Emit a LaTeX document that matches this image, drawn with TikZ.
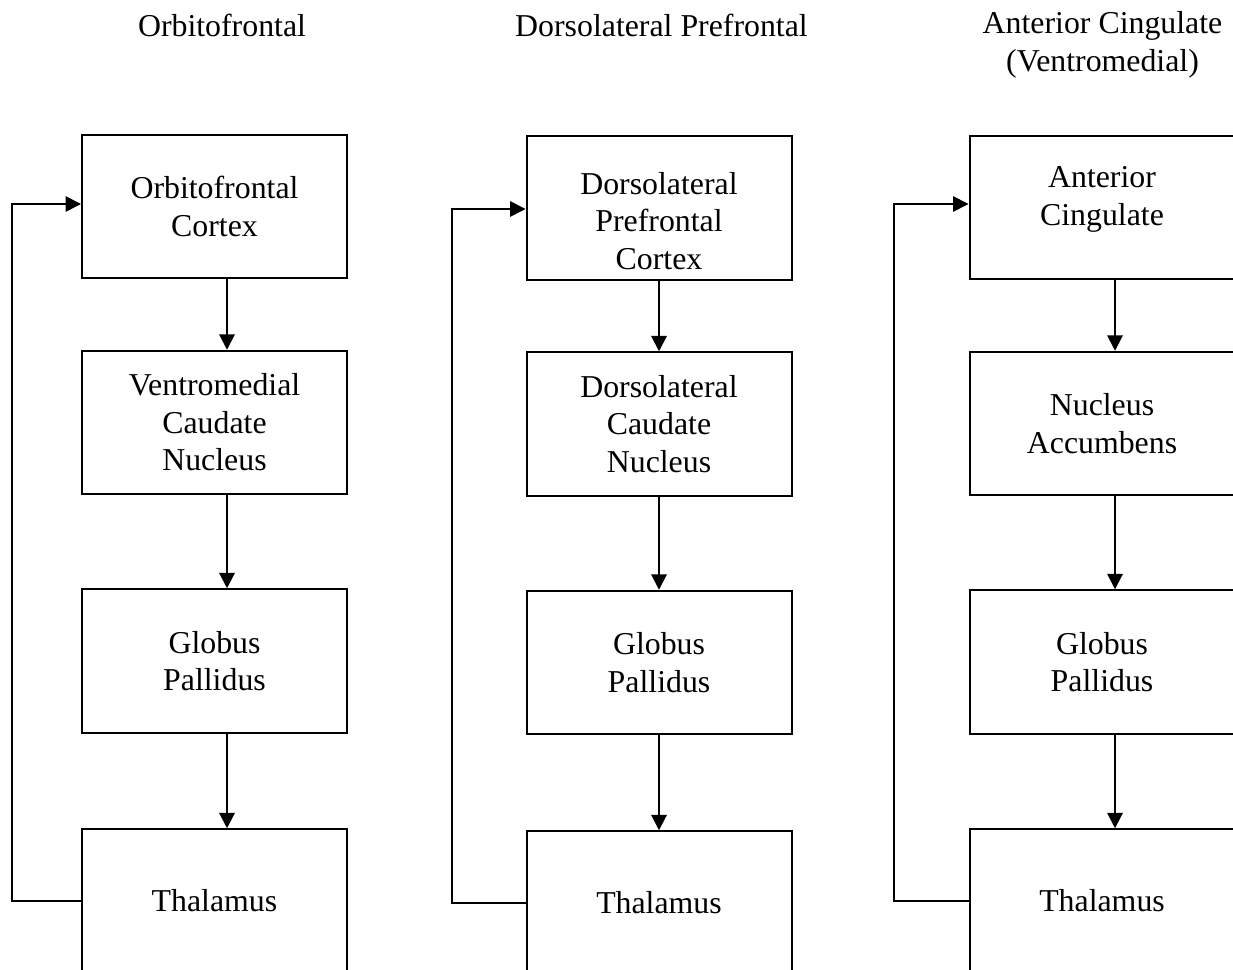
\documentclass[tikz,border=0pt]{standalone}
\usepackage{fontspec}
\setmainfont{Liberation Serif}
\usetikzlibrary{arrows.meta}
\begin{document}
\begin{tikzpicture}[x = 0.377pt, y = -0.377pt,
  every node/.style = {font = \fontsize{12pt}{14.15pt}\selectfont, align = center, inner sep = 0pt},
  region/.style = {draw, line width = 0.75pt, minimum width = 99.9pt, minimum height = 54.1pt},
  flow/.style = {line width = 0.75pt, -{Triangle[length = 5.8pt, width = 5.8pt]}},
  loop/.style = {line width = 0.6pt, -{Triangle[length = 5.8pt, width = 5.8pt]}}]
\useasboundingbox (0, 0) rectangle (1233, 970);
\clip (0, 0) rectangle (1233, 970);
% column titles
\node (title1) at (222, 25) {Orbitofrontal};
\node (title2) at (661.5, 25) {Dorsolateral Prefrontal};
\node (title3) at (1102.5, 45) {Anterior Cingulate\\(Ventromedial)};
% orbitofrontal circuit
\node [region] (ofc) at (214.5, 206.5) {Orbitofrontal\\Cortex};
\node [region] (vmcn) at (214.5, 422.5) {Ventromedial\\Caudate\\Nucleus};
\node [region] (gp1) at (214.5, 661) {Globus\\Pallidus};
\node [region] (th1) at (214.5, 901) {Thalamus};
\coordinate (a1) at (227, 0);
\coordinate (f1) at (12, 204);
\draw [flow] (ofc.south -| a1) -- (vmcn.north -| a1);
\draw [flow] (vmcn.south -| a1) -- (gp1.north -| a1);
\draw [flow] (gp1.south -| a1) -- (th1.north -| a1);
\draw [loop] (th1.west) -| (f1) -- (f1 -| ofc.west);
% dorsolateral prefrontal circuit
\node [region] (dlpfc) at (659, 208) {\rule{0pt}{18pt}Dorsolateral\\Prefrontal\\Cortex};
\node [region] (dlcn) at (659, 424) {Dorsolateral\\Caudate\\Nucleus};
\node [region] (gp2) at (659, 662.5) {Globus\\Pallidus};
\node [region] (th2) at (659, 903) {Thalamus};
\coordinate (a2) at (659, 0);
\coordinate (f2) at (452, 209);
\draw [flow] (dlpfc.south -| a2) -- (dlcn.north -| a2);
\draw [flow] (dlcn.south -| a2) -- (gp2.north -| a2);
\draw [flow] (gp2.south -| a2) -- (th2.north -| a2);
\draw [loop] (th2.west) -| (f2) -- (f2 -| dlpfc.west);
% anterior cingulate circuit
\node [region, text depth = 8.6pt] (acc) at (1102, 207.5) {Anterior\\Cingulate};
\node [region] (nacc) at (1102, 423.5) {Nucleus\\Accumbens};
\node [region] (gp3) at (1102, 662) {Globus\\Pallidus};
\node [region] (th3) at (1102, 901) {Thalamus};
\coordinate (a3) at (1115, 0);
\coordinate (f3) at (894, 204);
\draw [flow] (acc.south -| a3) -- (nacc.north -| a3);
\draw [flow] (nacc.south -| a3) -- (gp3.north -| a3);
\draw [flow] (gp3.south -| a3) -- (th3.north -| a3);
\draw [loop] (th3.west) -| (f3) -- (f3 -| acc.west);
\end{tikzpicture}
\end{document}
